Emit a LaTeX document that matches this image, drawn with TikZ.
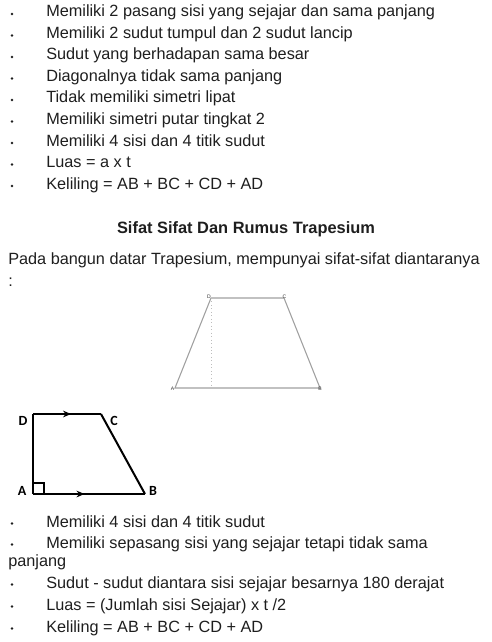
\documentclass[tikz,border=0pt]{standalone}
\usepackage{fontspec}
\setmainfont{Liberation Sans}
\newfontfamily\labfont{Carlito}
\usetikzlibrary{decorations.markings,arrows.meta}
\definecolor{txt}{HTML}{1E1E1E}
\definecolor{lgray}{HTML}{A0A0A0}
\begin{document}
\begin{tikzpicture}[x=0.75pt,y=-0.75pt,
  line/.style={anchor=base west,inner sep=0,text=txt,font=\fontsize{12.2pt}{14pt}\selectfont},
  bul/.style={circle,fill=txt,inner sep=0,minimum size=2.2pt},
  tiny/.style={inner sep=0,font=\fontsize{3.8pt}{4pt}\selectfont,text=black!80},
  lab/.style={inner sep=0,font=\labfont\fontsize{10.5pt}{11pt}\bfseries\selectfont},
  grayedge/.style={draw=lgray,line width=0.8pt},
  blackedge/.style={draw=black,line width=1.5pt},
  midarrow/.style={postaction={decorate},decoration={markings,mark=at position #1 with {\arrow{Stealth[length=6pt,width=5pt]}}}}
]
\useasboundingbox (0,0) rectangle (492,642);
% upper list
\foreach \t [count=\i] in {Memiliki 2 pasang sisi yang sejajar dan sama panjang,
  Memiliki 2 sudut tumpul dan 2 sudut lancip,
  Sudut yang berhadapan sama besar,
  Diagonalnya tidak sama panjang,
  Tidak memiliki simetri lipat,
  Memiliki simetri putar tingkat 2,
  Memiliki 4 sisi dan 4 titik sudut,
  Luas = a x t,
  Keliling = AB + BC + CD + AD}{
  \node[line] (u\i) at (46,{17+21.5*(\i-1)}) {\t};
  \node[bul] (ub\i) at (12,{14+21.5*(\i-1)}) {};
}
% title and intro
\node[anchor=base,inner sep=0,text=txt,font=\fontsize{12.3pt}{14pt}\bfseries\selectfont] (title) at (246,233) {Sifat Sifat Dan Rumus Trapesium};
\node[line] (intro) at (8,264) {Pada bangun datar Trapesium, mempunyai sifat-sifat diantaranya};
\node[line] (colon) at (8,286) {:};
% first trapezoid
\coordinate (A1) at (175,388);
\coordinate (B1) at (320,388);
\coordinate (C1) at (284,298);
\coordinate (D1) at (211,298);
\coordinate (H1) at (211,388);
\draw[grayedge] (A1) -- (B1) -- (C1) -- (D1) -- cycle;
\draw[draw=lgray!70,line width=0.6pt,dotted] (D1) -- (H1);
\node[tiny] (lA1) at (172.5,389) {A};
\node[tiny] (lB1) at (320,389) {B};
\node[tiny] (lC1) at (284.5,297) {C};
\node[tiny] (lD1) at (209,297) {D};
% second trapezoid
\coordinate (A2) at (33,494);
\coordinate (B2) at (145,494);
\coordinate (C2) at (101,414);
\coordinate (D2) at (33,414);
\draw[blackedge,line join=miter] (C2) -- (B2);
\draw[blackedge,midarrow=0.56] (D2) -- (C2);
\draw[blackedge,midarrow=0.46] (A2) -- (B2);
\draw[blackedge] (A2) -- (D2);
\draw[draw=black,line width=1.2pt] (33,483) -- (44,483) -- (44,494);
\node[lab] (lD2) at (23,421) {D};
\node[lab] (lC2) at (114,421) {C};
\node[lab] (lA2) at (22,491) {A};
\node[lab] (lB2) at (153,491) {B};
% lower list
\node[line] (l1) at (46,527) {Memiliki 4 sisi dan 4 titik sudut};
\node[bul] (lb1) at (12,523.5) {};
\node[line] (l2) at (46,548) {Memiliki sepasang sisi yang sejajar tetapi tidak sama};
\node[bul] (lb2) at (12,544.5) {};
\node[line] (l2b) at (8,566) {panjang};
\node[line] (l3) at (46,588) {Sudut - sudut diantara sisi sejajar besarnya 180 derajat};
\node[bul] (lb3) at (12,584.5) {};
\node[line] (l4) at (46,610) {Luas = (Jumlah sisi Sejajar) x t /2};
\node[bul] (lb4) at (12,606.5) {};
\node[line] (l5) at (46,632) {Keliling = AB + BC + CD + AD};
\node[bul] (lb5) at (12,628.5) {};
\end{tikzpicture}
\end{document}
